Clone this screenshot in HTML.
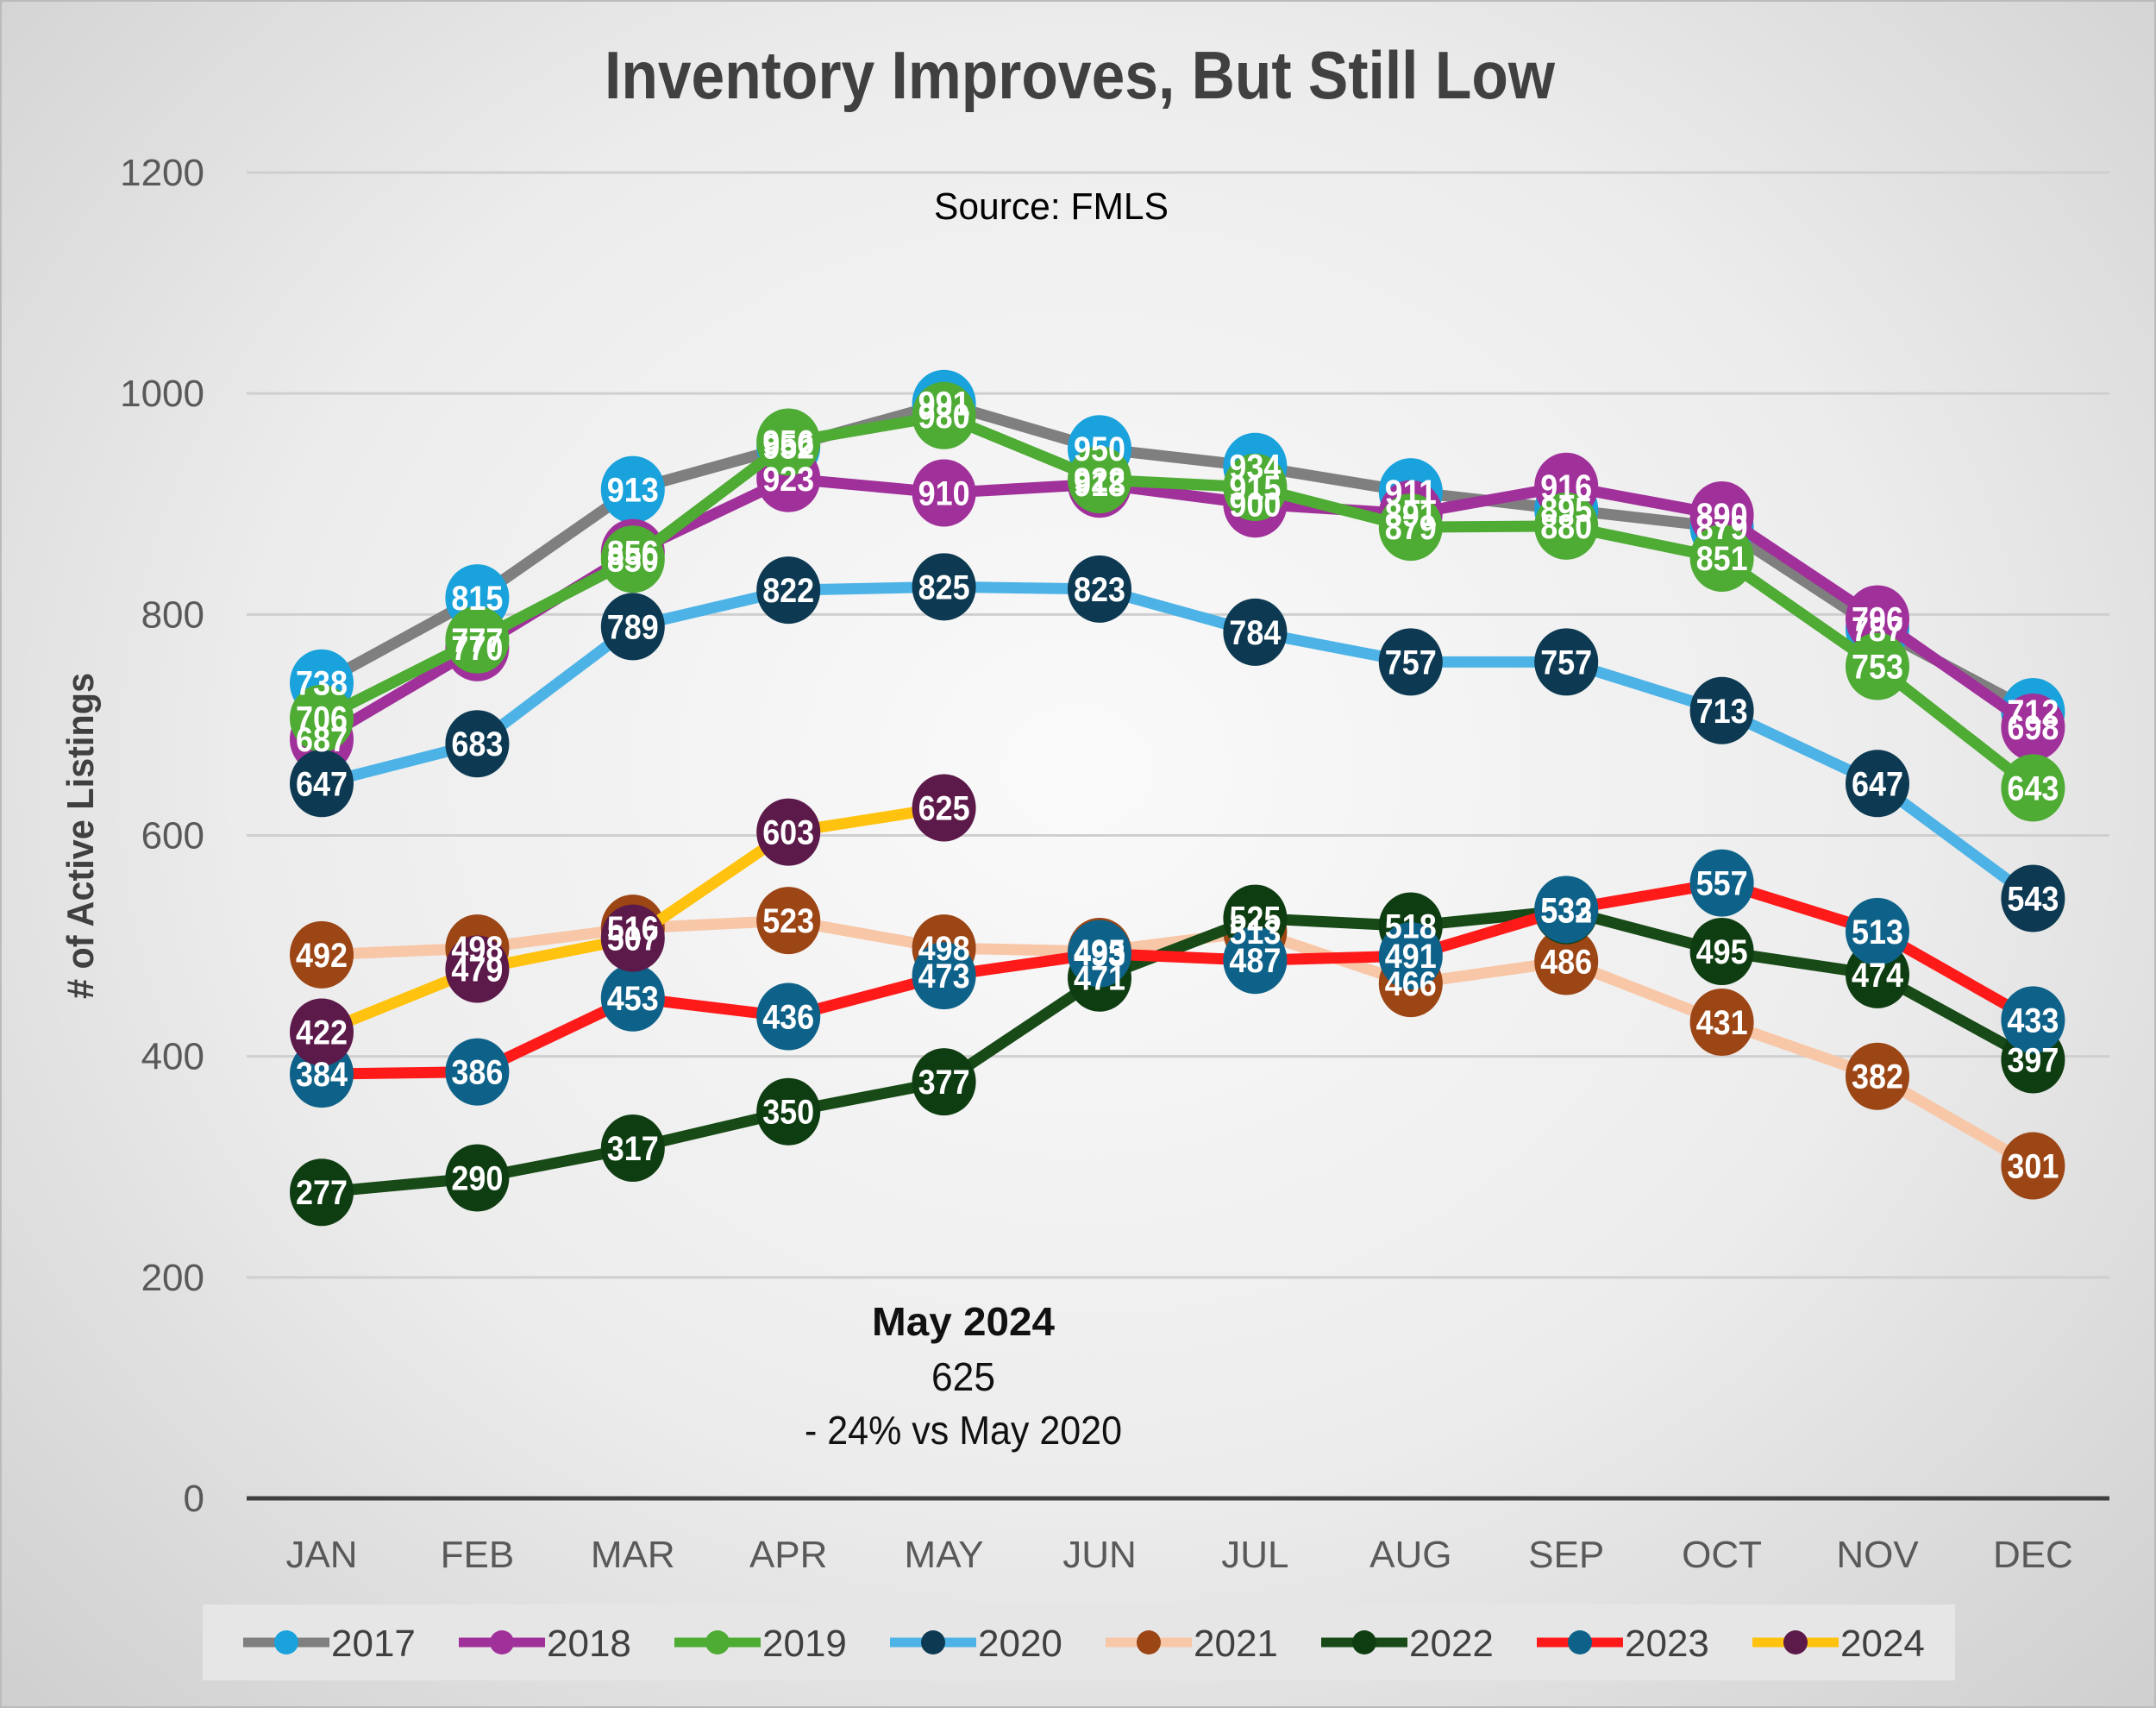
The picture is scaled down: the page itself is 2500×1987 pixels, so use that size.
<!DOCTYPE html>
<html><head><meta charset="utf-8">
<style>
html,body{margin:0;padding:0;}
body{width:2500px;height:1980px;overflow:hidden;font-family:"Liberation Sans",sans-serif;}
#wrap{position:absolute;left:0;top:0;width:2496px;height:1976px;border:2px solid #bbb;background:radial-gradient(ellipse at 50% 45%,#fafafa 0%,#ececec 55%,#cfcfcf 100%);}
</style></head>
<body>
<div id="wrap">
<svg id="chart" width="2500" height="1980" xmlns="http://www.w3.org/2000/svg"></svg>
</div>
<script>
const months=["JAN","FEB","MAR","APR","MAY","JUN","JUL","AUG","SEP","OCT","NOV","DEC"];
const yTicks=[0,200,400,600,800,1000,1200];
const seriesNames=["2017","2018","2019","2020","2021","2022","2023","2024"];
const v2017=[738,815,913,952,991,950,934,911,895,879,787,712];
const v2018=[687,770,856,923,910,918,900,891,916,890,796,698];
const v2019=[706,777,850,956,980,922,915,879,880,851,753,643];
const v2020=[647,683,789,822,825,823,784,757,757,713,647,543];
const v2021=[492,498,516,523,498,495,513,466,486,431,382,301];
const v2022=[277,290,317,350,377,471,525,518,532,495,474,397];
const v2023=[384,386,453,436,473,493,487,491,533,557,513,433];
const v2024=[422,479,507,603,625];
const lineColors=["#7f7f7f","#a0309a","#4eab34","#4db3e6","#f8c7a8","#174a17","#ff1a1a","#ffc20e"];
const markerColors=["#19a2dc","#a0309a","#4eab34","#0d3a52","#9c4515","#0f3d12","#0e6289","#5c1a4a"];
const allVals=[v2017,v2018,v2019,v2020,v2021,v2022,v2023,v2024];

const NS="http://www.w3.org/2000/svg";
const svg=document.getElementById('chart');
const X0=371,DX=180.4,Y0=1735,YTOP=198;
const xs=i=>X0+i*DX;
const ys=v=>Y0-(v/1200)*(Y0-YTOP);
function mk(tag,attrs,parent){const e=document.createElementNS(NS,tag);for(const k in attrs)e.setAttribute(k,attrs[k]);(parent||svg).appendChild(e);return e;}

let t=mk('text',{x:1250,y:112,'text-anchor':'middle','font-size':78,'font-weight':'bold',fill:'#404040',textLength:1102,lengthAdjust:'spacingAndGlyphs'});
t.textContent="Inventory Improves, But Still Low";



yTicks.forEach(v=>{
  const g=mk('line',{x1:284,x2:2444,y1:ys(v),y2:ys(v),stroke:v===0?'#404040':'#cfcfcf','stroke-width':v===0?5:3});
  
  
  const l=mk('text',{x:235,y:ys(v)+15,'text-anchor':'end','font-size':44,fill:'#595959'});
  l.textContent=v;
  
  
});
months.forEach((m,i)=>{
  const l=mk('text',{x:xs(i),y:1815,'text-anchor':'middle','font-size':44,fill:'#595959'});
  l.textContent=m;
  
  
});
let yt=mk('text',{x:0,y:0,transform:'translate(106,967) rotate(-90)','text-anchor':'middle','font-size':44,'font-weight':'bold',fill:'#404040',textLength:378,lengthAdjust:'spacingAndGlyphs'});
yt.textContent="# of Active Listings";



let src=mk('text',{x:1217,y:252,'text-anchor':'middle','font-size':44,fill:'#000',textLength:272,lengthAdjust:'spacingAndGlyphs'});
src.textContent="Source: FMLS";


[["May 2024",1546,true,'annotation-title',212],["625",1610,false,'annotation-value',74],["- 24% vs May 2020",1672,false,'annotation-change',368]].forEach(a=>{
  const e=mk('text',{x:1115,y:a[1],'text-anchor':'middle','font-size':46,'font-weight':a[2]?'bold':'normal',fill:'#111',textLength:a[4],lengthAdjust:'spacingAndGlyphs'});
  e.textContent=a[0];
  
  
});

const labelLayer=[];
allVals.forEach((vals,si)=>{
  const g=mk('g',{});
  
  
  const pts=vals.map((v,i)=>xs(i)+','+ys(v)).join(' ');
  const pl=mk('polyline',{points:pts,fill:'none',stroke:lineColors[si],'stroke-width':13,'stroke-linejoin':'round'},g);
  
  
  vals.forEach((v,i)=>{
    const c=mk('ellipse',{cx:xs(i),cy:ys(v),rx:37,ry:39,fill:markerColors[si]},g);
    
    
  });
});
const lg=mk('g',{});


allVals.forEach((vals,si)=>{
  vals.forEach((v,i)=>{
    const tx=mk('text',{x:xs(i),y:ys(v)+14,'text-anchor':'middle','font-size':40,'font-weight':'bold',fill:'#fff',textLength:60,lengthAdjust:'spacingAndGlyphs'},lg);
    tx.textContent=v;
    
    
  });
});

const lb=mk('rect',{x:233,y:1858,width:2032,height:88,fill:'#e6e6e6'});


const legX=[280,530,780,1030,1280,1530,1780,2030];
seriesNames.forEach((n,i)=>{
  const g=mk('g',{});
  
  
  const x=legX[i],y=1902;
  mk('line',{x1:x,x2:x+100,y1:y,y2:y,stroke:lineColors[i],'stroke-width':11},g);
  mk('circle',{cx:x+50,cy:y,r:14,fill:markerColors[i]},g);
  const tx=mk('text',{x:x+102,y:y+16,'font-size':44,fill:'#404040'},g);
  tx.textContent=n;
});
</script>
</body></html>
